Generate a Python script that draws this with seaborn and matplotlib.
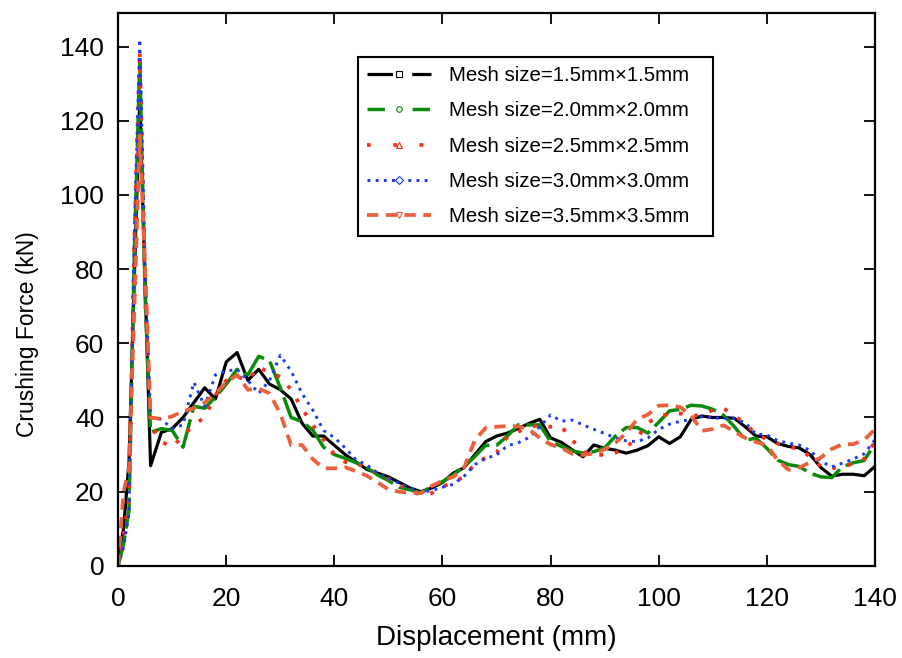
import numpy as np
import pandas as pd
import matplotlib
matplotlib.use("Agg")
import matplotlib.pyplot as plt
from matplotlib.lines import Line2D
import seaborn as sns

# -----------------------------
# DATA
# -----------------------------
displacement = [0, 1, 2, 3, 4, 5, 6] + list(range(8, 141, 2))

force_15 = [2, 10, 28, 78, 126, 75, 27, 36, 37, 40, 44, 48, 45, 55, 57.5, 50, 53, 49,
            47.5, 45, 38.5, 35, 35, 32.5, 30, 28, 26, 25, 24, 22.5, 21, 20, 21, 22.5,
            25, 26.5, 30, 33.5, 35, 35.8, 37, 38.4, 39.5, 34.5, 33.3, 31.3, 29.4, 32.6,
            31.7, 31.2, 30.4, 31.2, 32.4, 34.8, 33, 34.8, 39.5, 40.4, 40, 40, 39.8,
            37.5, 35, 34.8, 33, 32.2, 31.8, 30, 26.5, 24.2, 24.7, 24.7, 24.3, 26.8]
force_20 = [0, 6, 15, 85, 136, 72, 36, 37, 36.5, 32, 43, 42.5, 45.5, 49, 53, 51.5, 56.5,
            55.3, 48, 40, 38.9, 36.6, 32, 30, 29, 27.8, 26.5, 24.5, 23, 21.2, 20.5, 19.6,
            21.5, 22.7, 24.5, 26.8, 29.5, 32.5, 32.5, 35, 38, 38, 38, 33.5, 32.2, 31,
            30.4, 30.8, 31.8, 35, 37.3, 37.3, 35.8, 38.7, 41.8, 42.2, 43.3, 43.1, 42.2,
            40.6, 37.5, 33.9, 34.4, 31.7, 28.5, 27.3, 26.8, 25, 24, 23.8, 26.7, 27.8,
            28.4, 33]
force_25 = [0, 8, 18, 88, 139, 72, 38, 33.5, 32, 35, 38, 40, 46, 50, 51, 50, 53.7, 52,
            51, 47.5, 42.5, 38, 34, 30, 28, 27.6, 26.5, 25, 23.5, 22, 20.3, 19.1, 19.6,
            21.3, 22.6, 24, 27.5, 29.2, 30.5, 34.8, 36.2, 37.3, 38, 37.5, 37.6, 33.9,
            30.8, 30, 29.9, 30.5, 32, 34.5, 38.6, 40.3, 41, 41.1, 40.3, 40.8, 42, 42.5,
            40.4, 38.5, 35.4, 34.2, 33, 32.2, 31.4, 29.5, 26.8, 26.3, 26.7, 27.6, 28.8,
            33.5]
force_30 = [0, 5, 14, 90, 142, 80, 40, 39.5, 37, 38, 49.5, 43, 51.5, 52.5, 53, 50, 46.5,
            50, 56.8, 52.5, 46.5, 42, 36.5, 34.6, 31.8, 28.6, 27.2, 25, 23.6, 22.3, 21,
            19.8, 20.3, 21.2, 22, 24.2, 27.3, 29, 29.9, 32.4, 33.2, 34.6, 37.5, 40.7, 39,
            39.3, 38, 36.8, 35.7, 34.5, 33.7, 33.5, 34.5, 36.8, 38.2, 39, 39.4, 40.2,
            39.9, 39.8, 39.7, 38.6, 35.5, 35.3, 33.8, 33.1, 32.6, 31.1, 28.2, 26.7, 27.7,
            28.8, 30.2, 34]
force_35 = [0, 20, 26, 70, 116, 80, 40, 39.6, 40.3, 41.7, 42.5, 44, 46.5, 49.5, 51.5,
            47.5, 47.8, 46.5, 41, 32.5, 32.6, 28.8, 26.3, 26.3, 26.6, 25.5, 24.3, 22.5,
            20.6, 20, 19.7, 19.6, 21.5, 23, 24, 26.5, 34, 37.2, 37.5, 37.7, 37.6, 36.8,
            34.5, 32.7, 31.8, 30.2, 29.9, 30.3, 31.4, 33.2, 35.8, 39.5, 40.8, 43.2, 43.3,
            42.8, 40.5, 36.4, 36.9, 37.9, 36.2, 34.5, 33.4, 32.5, 28.5, 25.9, 26.5, 27.9,
            29.2, 31.5, 32.8, 32.8, 34, 36.8]

labels = ["Mesh size=1.5mm×1.5mm", "Mesh size=2.0mm×2.0mm", "Mesh size=2.5mm×2.5mm",
          "Mesh size=3.0mm×3.0mm", "Mesh size=3.5mm×3.5mm"]
series = [force_15, force_20, force_25, force_30, force_35]

df = pd.concat([pd.DataFrame({"Displacement": displacement, "Force": f, "Mesh": lab})
                for f, lab in zip(series, labels)], ignore_index=True)

# -----------------------------
# STYLE
# -----------------------------
colors = ["#000000", "#0a8a0a", "#f5301c", "#1a3cf0", "#ec5f3c"]
dashes = [(None, None), (9, 2), (1, 3.2), (1, 1.8), (3, 2)]
widths = [2.3, 2.5, 2.7, 2.1, 2.7]
markers = ["s", "o", "^", "D", "v"]
legend_dash = [(8, 6), (5, 8), (1, 6), (1, 1.8), (3, 2)]

sns.set_theme(style="ticks")
plt.rcParams["font.family"] = ["Liberation Sans", "DejaVu Sans"]
plt.rcParams["text.color"] = "black"
plt.rcParams["axes.labelcolor"] = "black"

fig = plt.figure(figsize=(9.02, 6.58), dpi=100)
ax = fig.add_axes([0.131, 0.140, 0.839, 0.840])

palette = dict(zip(labels, colors))
sns.lineplot(data=df, x="Displacement", y="Force", hue="Mesh", palette=palette,
             ax=ax, legend=False, sort=False)

# seaborn draws one Line2D per hue level, in order
for line, d, w in zip(ax.get_lines(), dashes, widths):
    line.set_linewidth(w)
    if d[0] is not None:
        line.set_dashes(d)
        line.set_dash_capstyle("butt")

ax.set_xlim(0, 140)
ax.set_ylim(0, 149)
ax.set_xticks(range(0, 141, 20))
ax.set_yticks(range(0, 141, 20))
ax.tick_params(direction="in", length=8, width=1.3, labelsize=19,
               top=True, right=True, colors="black")
ax.tick_params(axis="x", pad=15)
ax.tick_params(axis="y", pad=10)
for sp in ax.spines.values():
    sp.set_linewidth(1.6)
    sp.set_color("black")

ax.set_xlabel("Displacement (mm)", fontsize=20, labelpad=10)
ax.set_ylabel("Crushing Force (kN)", fontsize=16.5)
ax.yaxis.set_label_coords(-0.104, 0.42)

handles = []
for c, m, ld, w in zip(colors, markers, legend_dash, widths):
    h = Line2D([0], [0], color=c, lw=w, dashes=ld, marker=m, markersize=4,
               markerfacecolor="white", markeredgecolor=c, markeredgewidth=0.8)
    handles.append(h)

leg = ax.legend(handles, labels, loc="upper left",
                bbox_to_anchor=(0.317, 0.921, 0.469, 0.0), mode="expand",
                borderaxespad=0, fontsize=14.7, frameon=True, fancybox=False,
                edgecolor="black", framealpha=1, handlelength=3.1, handletextpad=0.9,
                labelspacing=0.8, borderpad=0.45, numpoints=1)
leg.get_frame().set_linewidth(1.5)

fig.savefig("out.png", dpi=100)
